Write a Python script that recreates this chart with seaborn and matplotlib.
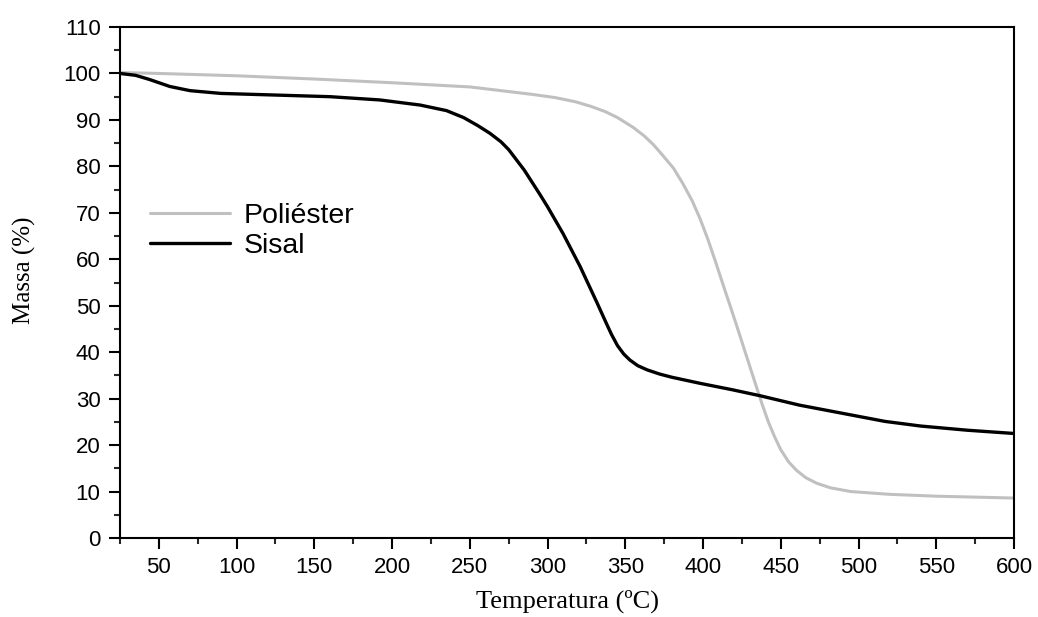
import numpy as np
import pandas as pd
import matplotlib
matplotlib.use("Agg")
import matplotlib.pyplot as plt
import seaborn as sns
from matplotlib.ticker import MultipleLocator

# ---- data ----
temp_poliester = [25, 50, 100, 150, 200, 250, 270, 290, 305, 318, 328, 337, 345, 355, 362, 368,
                  374, 381, 387, 393, 398, 403, 408, 413, 418, 423, 428, 433, 438, 442,
                  446, 450, 455, 460, 466, 473, 482, 495, 520, 550, 575, 600]
massa_poliester = [100.2, 100.0, 99.5, 98.8, 98.0, 97.1, 96.3, 95.5, 94.8, 93.9, 92.9, 91.8,
                   90.5, 88.4, 86.6, 84.7, 82.4, 79.6, 76.3, 72.6, 68.8, 64.4, 59.5, 54.4,
                   49.4, 44.3, 39.1, 33.9, 28.8, 25.0, 21.8, 19.0, 16.4, 14.6, 13.0, 11.8,
                   10.8, 10.0, 9.4, 9.0, 8.8, 8.6]

temp_sisal = [25, 35, 44, 57, 70, 90, 120, 160, 192, 218, 235, 246, 255, 263, 270, 275,
              280, 285, 290, 295, 300, 310, 321, 332, 337, 341, 345, 349, 353, 358, 364,
              372, 380, 398, 419, 437, 462, 495, 517, 540, 570, 600]
massa_sisal = [100.0, 99.6, 98.7, 97.2, 96.3, 95.7, 95.4, 95.0, 94.3, 93.2, 92.0, 90.5,
               88.8, 87.1, 85.3, 83.6, 81.4, 79.2, 76.6, 74.0, 71.3, 65.5, 58.4, 50.5,
               46.8, 43.9, 41.4, 39.6, 38.3, 37.1, 36.2, 35.3, 34.6, 33.3, 31.9, 30.6,
               28.6, 26.5, 25.1, 24.1, 23.2, 22.5]

series_names = ["Poliéster", "Sisal"]
series_colors = ["#c0c0c0", "#000000"]
x_major_ticks = list(range(50, 601, 50))
y_major_ticks = list(range(0, 111, 10))

df = pd.concat([
    pd.DataFrame({"Temperatura": temp_poliester, "Massa": massa_poliester, "Amostra": series_names[0]}),
    pd.DataFrame({"Temperatura": temp_sisal, "Massa": massa_sisal, "Amostra": series_names[1]}),
], ignore_index=True)

sns.set_style("ticks")
plt.rcParams["font.family"] = ["Liberation Sans", "DejaVu Sans"]
plt.rcParams["text.color"] = "black"
plt.rcParams["axes.labelcolor"] = "black"

fig = plt.figure(figsize=(10.38, 6.17), dpi=100)
ax = fig.add_axes([120 / 1038, 79 / 617, 894 / 1038, 511 / 617])

sns.lineplot(data=df, x="Temperatura", y="Massa", hue="Amostra",
             palette=dict(zip(series_names, series_colors)), ax=ax,
             sort=False, estimator=None, linewidth=2.0, legend=True)

widths = [2.2, 2.4]
for line, lw in zip(ax.lines, widths):
    line.set_linewidth(lw)
    line.set_solid_joinstyle("round")

ax.set_xlim(25, 600)
ax.set_ylim(0, 110)
ax.set_xticks(x_major_ticks)
ax.set_yticks(y_major_ticks)
ax.xaxis.set_minor_locator(MultipleLocator(25))
ax.yaxis.set_minor_locator(MultipleLocator(5))

ax.tick_params(which="major", direction="out", length=8, width=1.5, labelsize=16,
               pad=6, color="black", labelcolor="black",
               top=False, right=False)
ax.tick_params(which="minor", direction="out", length=4.5, width=1.5,
               top=False, right=False)

for s in ax.spines.values():
    s.set_visible(True)
    s.set_linewidth(1.5)
    s.set_color("black")

ax.set_xlabel("Temperatura (ºC)", fontsize=19, color="black",
              family=["Liberation Serif", "DejaVu Serif"])
ax.set_ylabel("Massa (%)", fontsize=18, color="black",
              family=["Liberation Serif", "DejaVu Serif"])
ax.xaxis.set_label_coords(0.5, -0.1)
ax.yaxis.set_label_coords(-0.094, 0.524)

handles, labels = ax.get_legend_handles_labels()
leg = ax.legend(handles, labels, loc="center left", bbox_to_anchor=(0.0336, 0.601),
                frameon=False, fontsize=20.5, handlelength=2.8, handletextpad=0.5,
                labelspacing=0.15, borderpad=0, borderaxespad=0, labelcolor="black")
for h, lw in zip(leg.get_lines(), widths):
    h.set_linewidth(lw)

fig.savefig("out.png", dpi=100)
